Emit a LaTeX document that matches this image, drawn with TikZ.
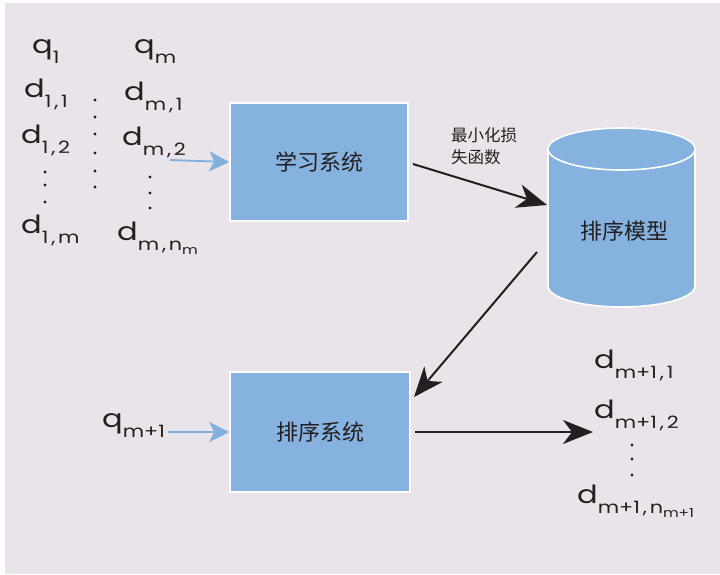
\documentclass[tikz,border=0pt]{standalone}
\usepackage{fontspec}
\setmainfont{Poppins}[FakeStretch=1.22]
\newfontfamily\cjk{Noto Sans CJK SC}
\usetikzlibrary{arrows.meta,shapes.geometric}
\definecolor{bg}{HTML}{E8E4EA}
\definecolor{boxblue}{HTML}{85B2DF}
\definecolor{arrblue}{HTML}{7FB0DE}
\definecolor{ink}{HTML}{231F20}
\newcommand\lbl[2]{#1\raisebox{-0.42em}{\fontsize{17}{17}\selectfont #2}}
\newcommand\lblsm[2]{#1\raisebox{-0.25em}{\fontsize{12.5}{12.5}\selectfont #2}}
\tikzset{
  sym/.style={inner sep=0pt, text=ink, font=\fontsize{25}{25}\selectfont, anchor=base west},
  sysbox/.style={draw=white, line width=1.6pt, fill=boxblue, inner sep=0pt, text=ink, font=\cjk\fontsize{22}{22}\selectfont},
  blk/.style={draw=ink, line width=2pt, -{Stealth[length=30pt,width=24pt,inset=9pt]}},
  blu/.style={draw=arrblue, line width=1.8pt, -{Stealth[length=20pt,width=20pt,inset=5pt]}},
  dot/.style={circle, fill=ink, inner sep=0pt, minimum size=3.2pt}
}
\begin{document}
\begin{tikzpicture}[x=1pt,y=-1pt]
\useasboundingbox (0,0) rectangle (720,574);
\fill[white] (0,0) rectangle (720,574);
\fill[bg] (5,3) rectangle (720,574);
% left text
\node[sym] (q1) at (32,53) {\lbl{q}{1}};
\node[sym] (qm) at (134,53) {\lbl{q}{m}};
\node[sym] (d11) at (24,97) {\lbl{d}{1\,,\,1}};
\node[sym] (d12) at (21,143) {\lbl{d}{1\,,\,2}};
\node[sym] (d1m) at (21,233) {\lbl{d}{1\,,\,m}};
\node[sym] (dm1) at (124,100) {\lbl{d}{m\,,\,1}};
\node[sym] (dm2) at (122,145) {\lbl{d}{m\,,\,2}};
\node[sym] (dmn) at (117,240) {\lbl{d}{m\,,\,\lblsm{n}{m}}};
\foreach \y [count=\i] in {172,185,202} \node[dot] (da\i) at (45,\y) {};
\foreach \y [count=\i] in {100,117,134,153,171,187} \node[dot] (db\i) at (95,\y) {};
\foreach \y [count=\i] in {177,193,208} \node[dot] (dc\i) at (150,\y) {};
% boxes
\node[sysbox, minimum width=178pt, minimum height=118pt] (learn) at (319,162) {学习系统};
\node[sysbox, minimum width=180pt, minimum height=120pt] (rank) at (320,432) {排序系统};
% cylinder
\fill[boxblue] (548,149) -- (548,286) arc[start angle=180,end angle=0,x radius=73.5,y radius=21] -- (695,149) -- cycle;
\draw[white, line width=1.6pt] (548,149) -- (548,286) arc[start angle=180,end angle=0,x radius=73.5,y radius=21] -- (695,149);
\draw[white, line width=1.6pt, fill=boxblue] (621.5,149) ellipse[x radius=73.5, y radius=21];
\node[inner sep=0pt, text=ink, font=\cjk\fontsize{22}{22}\selectfont] (model) at (624,231) {排序模型};
% label
\node[inner sep=0pt, text=ink, font=\cjk\fontsize{16.5}{22}\selectfont, align=left, anchor=north west] (loss) at (451,127) {最小化损\\失函数};
% input arrows
\coordinate (in1) at (170,160);
\coordinate (in2) at (168,432);
\draw[blu] (in1) -- (learn.west);
\draw[blu] (in2) -- (rank.west);
\node[sym] (qm1) at (102,427) {\lbl{q}{m+1}};
% black arrows
\coordinate (a1s) at (413,164);
\coordinate (a1e) at (547,205);
\coordinate (a2s) at (537,252);
\coordinate (a2e) at (414,397);
\coordinate (a3s) at (415,432);
\coordinate (a3e) at (593,432);
\draw[blk] (a1s) -- (a1e);
\draw[blk] (a2s) -- (a2e);
\draw[blk] (a3s) -- (a3e);
% right text
\node[sym] (r1) at (594,368) {\lbl{d}{m+1\,,\,1}};
\node[sym] (r2) at (594,418) {\lbl{d}{m+1\,,\,2}};
\node[sym] (rn) at (577,503) {\lbl{d}{m+1\,,\,\lblsm{n}{m+1}}};
\foreach \y [count=\i] in {445,459,475} \node[dot] (rd\i) at (632,\y) {};
\end{tikzpicture}
\end{document}
